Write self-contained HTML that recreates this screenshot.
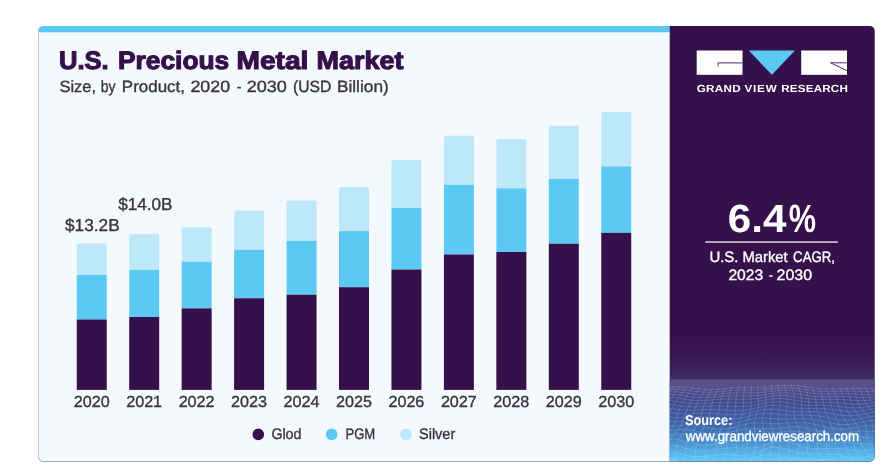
<!DOCTYPE html>
<html lang="en"><head><meta charset="utf-8"><title>U.S. Precious Metal Market</title>
<style>html,body{margin:0;padding:0;background:#fff}body{width:890px;height:470px;overflow:hidden}svg{display:block}text{font-family:"Liberation Sans",Arial,Helvetica,sans-serif;text-rendering:geometricPrecision}</style>
</head><body>
<svg width="890" height="470" viewBox="0 0 890 470">
<defs>
<clipPath id="card"><rect x="38.5" y="25.9" width="836" height="435.3" rx="5" ry="5"/></clipPath>
<clipPath id="panel"><rect x="669.7" y="379.5" width="206" height="82"/></clipPath>
<linearGradient id="pg" x1="0" y1="25" x2="0" y2="461" gradientUnits="userSpaceOnUse">
<stop offset="0.0000" stop-color="#36104a"/>
<stop offset="0.7110" stop-color="#36104a"/>
<stop offset="0.7683" stop-color="#391a53"/>
<stop offset="0.8131" stop-color="#3f2b64"/>
</linearGradient>
<linearGradient id="fg" x1="0" y1="379.5" x2="0" y2="461" gradientUnits="userSpaceOnUse">
<stop offset="0.0000" stop-color="#5b528b"/>
<stop offset="0.0798" stop-color="#554f8a"/>
<stop offset="0.1534" stop-color="#494a88"/>
<stop offset="0.2515" stop-color="#3f4b8b"/>
<stop offset="0.3742" stop-color="#3c5296"/>
<stop offset="0.5583" stop-color="#3e66ab"/>
<stop offset="0.7423" stop-color="#4689c9"/>
<stop offset="0.8896" stop-color="#54b0e7"/>
<stop offset="1.0000" stop-color="#5ecbf6"/>
</linearGradient>
<filter id="sh" x="-5%" y="-5%" width="110%" height="110%"><feGaussianBlur stdDeviation="0.7"/></filter>
</defs>
<rect x="38.1" y="25.9" width="836.8" height="436.0" rx="5.5" ry="5.5" fill="#8c8c8c" filter="url(#sh)"/>
<g clip-path="url(#card)">
<rect x="38" y="25" width="640" height="437" fill="#f4f9fd"/>
<rect x="38" y="25" width="633" height="7.3" fill="#5cc9f5"/>
<rect x="669.7" y="25" width="206" height="437" fill="url(#pg)"/>
<rect x="669.7" y="379.5" width="206" height="82" fill="url(#fg)"/>
<g clip-path="url(#panel)" fill="none" stroke="#ffffff" stroke-opacity="0.2" stroke-width="0.8">
<polyline points="661.2,387.9 664.2,387.7 667.1,387.4 670.1,387.2 673.0,387.1 675.9,387.0 678.8,387.0 681.7,387.1 684.6,387.3 687.5,387.5 690.3,387.9 693.2,388.3 696.1,388.6 699.0,389.0 701.9,389.3 704.9,389.6 707.8,389.7 710.8,389.7 713.7,389.7 716.7,389.5 719.7,389.3 722.7,389.0 725.7,388.7 728.7,388.3 731.7,388.0 734.7,387.8 737.7,387.6 740.7,387.5 743.6,387.4 746.6,387.4 749.6,387.4 752.5,387.4 755.5,387.4 758.5,387.4 761.4,387.3 764.4,387.2 767.3,387.0 770.3,386.8 773.2,386.5 776.2,386.3 779.2,386.0 782.2,385.8 785.3,385.6 788.3,385.5 791.4,385.5 794.5,385.7 797.6,385.9 800.7,386.3 803.8,386.7 807.0,387.1 810.1,387.6 813.3,388.1 816.5,388.5 819.6,388.8 822.8,389.0 825.9,389.2 829.0,389.2 832.1,389.2 835.2,389.1 838.3,389.0 841.3,388.8 844.3,388.7 847.3,388.5 850.2,388.5 853.1,388.4 856.0,388.4 858.9,388.5 861.8,388.6 864.6,388.7 867.4,388.8 870.3,388.9 873.1,388.9 876.0,388.9 878.8,388.7 881.7,388.5 884.5,388.3"/>
<polyline points="661.3,390.2 664.3,389.9 667.2,389.6 670.1,389.4 673.0,389.3 675.8,389.3 678.7,389.4 681.5,389.5 684.4,389.8 687.2,390.2 690.1,390.6 692.9,391.0 695.8,391.4 698.7,391.7 701.6,392.0 704.5,392.2 707.4,392.2 710.4,392.2 713.4,392.1 716.3,391.8 719.3,391.6 722.4,391.3 725.4,391.0 728.4,390.7 731.4,390.4 734.5,390.2 737.5,390.1 740.5,390.1 743.5,390.0 746.5,390.1 749.6,390.1 752.6,390.1 755.5,390.1 758.5,390.0 761.5,389.8 764.5,389.6 767.5,389.3 770.5,389.0 773.5,388.7 776.5,388.4 779.5,388.1 782.5,387.9 785.6,387.8 788.6,387.8 791.7,387.9 794.8,388.1 797.9,388.4 801.0,388.8 804.1,389.3 807.3,389.8 810.4,390.3 813.6,390.7 816.7,391.1 819.9,391.3 823.0,391.5 826.1,391.6 829.2,391.6 832.2,391.5 835.3,391.4 838.3,391.3 841.3,391.1 844.3,391.0 847.2,391.0 850.1,391.0 853.0,391.0 855.8,391.1 858.7,391.2 861.5,391.3 864.3,391.5 867.1,391.5 869.9,391.6 872.8,391.5 875.6,391.4 878.4,391.2 881.3,390.9 884.2,390.6"/>
<polyline points="661.3,392.5 664.2,392.2 667.1,392.0 669.9,391.8 672.8,391.8 675.6,391.8 678.4,392.0 681.2,392.3 684.0,392.6 686.8,393.0 689.7,393.5 692.5,393.9 695.4,394.3 698.2,394.6 701.1,394.8 704.1,394.9 707.0,394.9 710.0,394.7 713.0,394.5 716.0,394.3 719.0,394.0 722.1,393.7 725.1,393.4 728.2,393.2 731.3,393.0 734.4,392.9 737.4,392.9 740.5,392.9 743.6,392.9 746.6,392.9 749.7,392.9 752.7,392.9 755.8,392.8 758.8,392.6 761.8,392.4 764.8,392.1 767.8,391.7 770.8,391.3 773.8,391.0 776.9,390.6 779.9,390.4 782.9,390.2 786.0,390.2 789.0,390.2 792.1,390.4 795.1,390.8 798.2,391.2 801.3,391.6 804.4,392.1 807.5,392.6 810.7,393.1 813.8,393.5 816.9,393.8 820.0,394.0 823.1,394.1 826.1,394.1 829.2,394.0 832.2,393.9 835.2,393.8 838.2,393.7 841.1,393.6 844.1,393.6 847.0,393.6 849.8,393.7 852.7,393.8 855.5,394.0 858.3,394.1 861.1,394.3 863.9,394.4 866.7,394.4 869.5,394.4 872.3,394.2 875.2,394.0 878.0,393.7 880.9,393.3 883.8,393.0"/>
<polyline points="661.1,395.0 663.9,394.7 666.8,394.5 669.6,394.4 672.4,394.5 675.2,394.6 678.0,394.9 680.8,395.2 683.6,395.7 686.4,396.1 689.2,396.6 692.0,397.0 694.9,397.3 697.8,397.5 700.7,397.6 703.7,397.6 706.7,397.5 709.7,397.4 712.7,397.1 715.8,396.8 718.9,396.6 722.0,396.3 725.1,396.1 728.2,396.0 731.3,395.9 734.5,395.9 737.6,395.9 740.7,395.9 743.8,396.0 746.9,396.0 750.0,395.9 753.1,395.8 756.2,395.6 759.2,395.4 762.2,395.0 765.3,394.6 768.3,394.2 771.3,393.7 774.3,393.3 777.3,393.0 780.3,392.8 783.3,392.7 786.3,392.8 789.4,393.0 792.4,393.3 795.4,393.7 798.5,394.1 801.5,394.6 804.6,395.1 807.7,395.6 810.7,396.0 813.8,396.3 816.9,396.5 819.9,396.7 823.0,396.7 826.0,396.7 829.0,396.6 832.0,396.5 834.9,396.4 837.9,396.4 840.8,396.4 843.7,396.4 846.6,396.6 849.4,396.7 852.2,396.9 855.1,397.1 857.9,397.3 860.7,397.4 863.5,397.5 866.3,397.4 869.1,397.3 871.9,397.0 874.8,396.7 877.7,396.3 880.6,395.9 883.5,395.5"/>
<polyline points="660.7,397.6 663.5,397.4 666.3,397.3 669.1,397.3 671.9,397.4 674.7,397.7 677.5,398.1 680.3,398.5 683.1,399.0 685.9,399.4 688.7,399.8 691.6,400.2 694.5,400.4 697.5,400.5 700.4,400.6 703.4,400.5 706.5,400.3 709.5,400.1 712.6,399.8 715.8,399.6 718.9,399.4 722.1,399.2 725.2,399.1 728.4,399.1 731.6,399.1 734.8,399.1 738.0,399.2 741.1,399.3 744.3,399.3 747.4,399.2 750.5,399.1 753.6,398.9 756.7,398.5 759.7,398.1 762.8,397.7 765.8,397.2 768.8,396.7 771.8,396.3 774.7,395.9 777.7,395.6 780.7,395.5 783.6,395.5 786.6,395.7 789.6,396.0 792.5,396.4 795.5,396.9 798.5,397.4 801.5,397.9 804.5,398.3 807.5,398.7 810.6,399.0 813.6,399.3 816.6,399.4 819.6,399.4 822.6,399.4 825.6,399.3 828.6,399.3 831.5,399.2 834.5,399.2 837.4,399.3 840.3,399.4 843.2,399.6 846.1,399.8 848.9,400.0 851.8,400.3 854.6,400.5 857.4,400.6 860.3,400.7 863.1,400.7 866.0,400.5 868.8,400.2 871.7,399.9 874.6,399.5 877.5,399.0 880.5,398.5 883.5,398.1"/>
<polyline points="660.1,400.5 663.0,400.3 665.8,400.3 668.6,400.5 671.4,400.7 674.2,401.1 677.0,401.6 679.8,402.0 682.7,402.5 685.6,402.9 688.5,403.2 691.4,403.5 694.3,403.6 697.3,403.6 700.4,403.5 703.4,403.4 706.5,403.2 709.7,403.0 712.8,402.7 716.0,402.6 719.2,402.4 722.5,402.4 725.7,402.4 728.9,402.5 732.1,402.6 735.4,402.7 738.6,402.8 741.7,402.8 744.9,402.7 748.0,402.6 751.1,402.3 754.2,402.0 757.2,401.5 760.3,401.0 763.3,400.4 766.2,399.9 769.2,399.4 772.1,399.0 775.0,398.7 777.9,398.5 780.8,398.5 783.7,398.7 786.6,399.0 789.5,399.3 792.4,399.8 795.3,400.3 798.3,400.8 801.2,401.2 804.2,401.6 807.2,401.9 810.1,402.1 813.1,402.2 816.1,402.3 819.1,402.3 822.1,402.2 825.1,402.2 828.0,402.2 831.0,402.2 833.9,402.3 836.9,402.5 839.8,402.8 842.7,403.0 845.6,403.4 848.5,403.7 851.4,403.9 854.3,404.1 857.2,404.2 860.0,404.1 862.9,403.9 865.8,403.7 868.7,403.3 871.7,402.8 874.6,402.3 877.6,401.8 880.6,401.3 883.7,400.9"/>
<polyline points="659.6,403.6 662.5,403.6 665.3,403.8 668.2,404.0 671.0,404.4 673.9,404.9 676.8,405.3 679.7,405.8 682.6,406.2 685.5,406.5 688.5,406.7 691.5,406.8 694.5,406.8 697.6,406.8 700.7,406.6 703.8,406.4 707.0,406.2 710.1,406.0 713.4,405.9 716.6,405.9 719.8,405.9 723.1,406.0 726.3,406.1 729.6,406.3 732.8,406.4 736.0,406.5 739.2,406.6 742.4,406.5 745.5,406.3 748.6,406.0 751.6,405.6 754.7,405.1 757.7,404.5 760.6,403.9 763.5,403.3 766.4,402.7 769.3,402.3 772.1,402.0 775.0,401.8 777.8,401.8 780.6,401.9 783.4,402.2 786.3,402.5 789.1,403.0 792.0,403.5 794.8,403.9 797.7,404.3 800.6,404.7 803.6,405.0 806.5,405.1 809.5,405.2 812.5,405.3 815.4,405.2 818.4,405.2 821.5,405.2 824.5,405.3 827.5,405.4 830.5,405.5 833.5,405.8 836.5,406.1 839.4,406.5 842.4,406.9 845.4,407.2 848.3,407.5 851.3,407.7 854.2,407.8 857.2,407.8 860.1,407.6 863.1,407.3 866.0,406.8 869.0,406.3 872.0,405.8 875.0,405.3 878.1,404.8 881.1,404.4 884.2,404.1"/>
<polyline points="659.3,407.2 662.2,407.3 665.2,407.6 668.1,408.0 671.0,408.4 674.0,408.9 676.9,409.3 679.9,409.7 682.9,410.0 685.9,410.2 688.9,410.2 691.9,410.2 695.0,410.1 698.1,410.0 701.3,409.8 704.4,409.6 707.6,409.5 710.8,409.5 714.1,409.5 717.3,409.6 720.5,409.7 723.8,410.0 727.0,410.2 730.2,410.4 733.4,410.5 736.6,410.6 739.7,410.5 742.8,410.3 745.9,409.9 748.9,409.5 751.9,408.9 754.8,408.2 757.7,407.6 760.6,406.9 763.4,406.3 766.2,405.9 769.0,405.5 771.8,405.3 774.5,405.3 777.3,405.4 780.1,405.7 782.8,406.0 785.6,406.5 788.4,406.9 791.2,407.3 794.1,407.7 797.0,408.0 799.9,408.2 802.8,408.3 805.8,408.4 808.8,408.4 811.8,408.4 814.9,408.4 817.9,408.4 821.0,408.5 824.1,408.7 827.1,408.9 830.2,409.3 833.3,409.7 836.4,410.2 839.4,410.6 842.5,411.0 845.5,411.4 848.6,411.6 851.6,411.7 854.6,411.6 857.6,411.4 860.6,411.1 863.6,410.6 866.6,410.1 869.6,409.5 872.7,408.9 875.7,408.4 878.7,408.0 881.8,407.7 884.9,407.6"/>
<polyline points="659.5,411.2 662.5,411.5 665.5,411.9 668.5,412.3 671.5,412.7 674.5,413.1 677.5,413.4 680.5,413.7 683.5,413.8 686.6,413.8 689.6,413.8 692.7,413.6 695.8,413.5 698.9,413.3 702.0,413.2 705.2,413.2 708.4,413.2 711.5,413.3 714.7,413.5 717.9,413.8 721.1,414.1 724.2,414.4 727.4,414.6 730.5,414.8 733.7,414.8 736.7,414.7 739.8,414.5 742.8,414.1 745.8,413.6 748.7,412.9 751.6,412.2 754.5,411.5 757.3,410.8 760.1,410.2 762.9,409.7 765.6,409.3 768.3,409.2 771.0,409.1 773.8,409.3 776.5,409.5 779.2,409.8 782.0,410.2 784.8,410.6 787.6,411.0 790.4,411.3 793.3,411.5 796.3,411.6 799.2,411.7 802.2,411.7 805.3,411.7 808.3,411.6 811.4,411.6 814.6,411.7 817.7,411.9 820.9,412.1 824.1,412.5 827.2,413.0 830.4,413.5 833.6,414.0 836.7,414.6 839.9,415.1 843.0,415.4 846.1,415.7 849.2,415.8 852.3,415.7 855.3,415.5 858.4,415.1 861.4,414.6 864.4,414.0 867.4,413.4 870.4,412.9 873.4,412.4 876.4,412.0 879.5,411.7 882.5,411.6 885.5,411.6"/>
<polyline points="660.2,415.7 663.3,416.1 666.3,416.5 669.4,416.9 672.4,417.2 675.4,417.4 678.4,417.6 681.4,417.6 684.4,417.6 687.4,417.5 690.5,417.3 693.5,417.1 696.5,417.0 699.6,417.0 702.6,417.0 705.7,417.1 708.8,417.4 711.9,417.7 715.0,418.1 718.1,418.5 721.1,418.8 724.2,419.1 727.3,419.3 730.3,419.3 733.4,419.2 736.4,418.9 739.3,418.5 742.3,417.9 745.2,417.2 748.0,416.4 750.9,415.6 753.7,414.9 756.5,414.3 759.2,413.8 762.0,413.5 764.7,413.3 767.4,413.3 770.2,413.5 772.9,413.7 775.7,414.0 778.4,414.3 781.3,414.6 784.1,414.9 787.0,415.1 789.9,415.2 792.9,415.3 795.9,415.2 799.0,415.2 802.1,415.1 805.2,415.1 808.4,415.1 811.6,415.2 814.9,415.5 818.1,415.9 821.4,416.3 824.6,416.9 827.9,417.5 831.2,418.2 834.4,418.8 837.6,419.3 840.8,419.7 843.9,420.0 847.1,420.1 850.2,420.0 853.2,419.7 856.3,419.3 859.3,418.8 862.2,418.2 865.2,417.6 868.2,417.0 871.1,416.5 874.0,416.2 876.9,416.0 879.8,415.9 882.8,415.9 885.7,416.1"/>
<polyline points="661.3,420.7 664.3,421.0 667.4,421.3 670.4,421.5 673.4,421.7 676.3,421.7 679.2,421.6 682.2,421.5 685.1,421.3 688.0,421.1 690.9,421.0 693.8,420.9 696.8,421.0 699.7,421.1 702.6,421.4 705.6,421.7 708.6,422.2 711.6,422.7 714.5,423.1 717.5,423.6 720.5,423.9 723.5,424.1 726.5,424.1 729.5,423.9 732.5,423.6 735.4,423.0 738.4,422.4 741.3,421.6 744.2,420.8 747.1,420.1 749.9,419.4 752.7,418.8 755.5,418.3 758.3,418.0 761.1,417.9 763.9,417.9 766.7,418.1 769.5,418.3 772.4,418.5 775.2,418.8 778.1,419.0 781.0,419.1 784.0,419.2 787.0,419.2 790.0,419.1 793.1,419.0 796.2,418.8 799.4,418.7 802.6,418.7 805.9,418.8 809.1,419.0 812.4,419.3 815.7,419.8 819.1,420.4 822.4,421.1 825.7,421.9 829.0,422.6 832.2,423.3 835.4,423.8 838.6,424.2 841.8,424.5 844.9,424.5 848.0,424.4 851.0,424.1 854.0,423.6 856.9,423.1 859.8,422.5 862.7,422.0 865.5,421.4 868.4,421.0 871.2,420.7 874.0,420.6 876.8,420.6 879.6,420.7 882.4,420.8 885.2,421.1"/>
<polyline points="662.2,425.9 665.1,426.1 668.1,426.2 671.0,426.1 673.8,426.0 676.7,425.8 679.5,425.6 682.2,425.4 685.0,425.2 687.8,425.1 690.6,425.1 693.4,425.2 696.2,425.5 699.0,425.9 701.8,426.4 704.7,427.0 707.6,427.6 710.5,428.1 713.5,428.6 716.4,428.9 719.4,429.1 722.4,429.0 725.4,428.8 728.4,428.4 731.4,427.8 734.4,427.1 737.4,426.3 740.4,425.5 743.3,424.8 746.3,424.1 749.2,423.6 752.2,423.2 755.1,423.0 758.0,422.9 760.9,423.0 763.8,423.1 766.8,423.3 769.7,423.4 772.6,423.6 775.6,423.6 778.6,423.6 781.6,423.5 784.7,423.3 787.8,423.1 790.9,422.9 794.0,422.7 797.2,422.6 800.5,422.6 803.7,422.7 807.0,423.0 810.3,423.5 813.6,424.1 816.9,424.8 820.1,425.6 823.4,426.5 826.7,427.3 829.9,428.0 833.1,428.6 836.2,429.0 839.3,429.2 842.4,429.2 845.4,429.0 848.3,428.6 851.2,428.2 854.0,427.6 856.9,427.1 859.6,426.6 862.4,426.2 865.1,425.9 867.8,425.7 870.5,425.6 873.2,425.7 875.9,425.8 878.6,426.0 881.3,426.2 884.1,426.3"/>
<polyline points="662.3,431.1 665.1,431.0 667.9,430.8 670.6,430.6 673.3,430.3 676.0,429.9 678.7,429.7 681.4,429.5 684.0,429.4 686.7,429.5 689.4,429.8 692.1,430.2 694.9,430.8 697.7,431.4 700.5,432.1 703.4,432.8 706.3,433.4 709.2,433.9 712.2,434.2 715.3,434.3 718.3,434.2 721.4,433.9 724.5,433.3 727.6,432.7 730.8,432.0 733.9,431.2 737.0,430.5 740.2,429.8 743.3,429.2 746.4,428.8 749.5,428.6 752.5,428.4 755.6,428.4 758.6,428.5 761.7,428.6 764.7,428.7 767.7,428.7 770.7,428.7 773.7,428.6 776.8,428.4 779.8,428.1 782.8,427.7 785.9,427.3 789.0,427.0 792.1,426.8 795.3,426.7 798.4,426.7 801.6,426.9 804.8,427.4 808.0,428.0 811.2,428.7 814.4,429.6 817.5,430.5 820.7,431.4 823.9,432.2 827.0,433.0 830.1,433.5 833.1,433.8 836.1,434.0 839.1,433.9 842.0,433.7 844.8,433.3 847.7,432.8 850.4,432.4 853.2,431.9 855.9,431.5 858.6,431.3 861.2,431.1 863.9,431.1 866.5,431.1 869.2,431.3 871.9,431.4 874.6,431.6 877.3,431.7 880.1,431.8 882.9,431.7"/>
<polyline points="661.3,436.1 664.0,435.7 666.7,435.3 669.3,434.9 672.0,434.5 674.6,434.2 677.3,434.1 679.9,434.1 682.6,434.4 685.3,434.8 688.0,435.4 690.8,436.1 693.6,436.9 696.5,437.7 699.4,438.4 702.4,439.0 705.5,439.4 708.6,439.7 711.7,439.6 714.9,439.4 718.1,439.0 721.4,438.5 724.7,437.8 728.0,437.1 731.2,436.4 734.5,435.8 737.8,435.2 741.1,434.8 744.3,434.6 747.5,434.4 750.7,434.4 753.9,434.4 757.0,434.5 760.1,434.5 763.1,434.5 766.2,434.3 769.2,434.1 772.1,433.8 775.1,433.3 778.1,432.8 781.0,432.3 784.0,431.8 786.9,431.4 789.9,431.2 792.9,431.1 795.9,431.2 798.9,431.6 801.9,432.2 804.9,432.9 808.0,433.8 811.0,434.8 814.1,435.7 817.1,436.7 820.1,437.5 823.2,438.1 826.1,438.6 829.1,438.8 832.1,438.8 835.0,438.7 837.8,438.4 840.7,438.1 843.5,437.7 846.3,437.4 849.0,437.1 851.8,436.9 854.5,436.8 857.2,436.8 859.9,436.9 862.6,437.1 865.3,437.3 868.1,437.5 870.9,437.6 873.7,437.6 876.5,437.5 879.4,437.3 882.4,436.9"/>
<polyline points="659.7,440.8 662.4,440.3 665.2,439.7 667.9,439.4 670.6,439.1 673.4,439.1 676.1,439.3 678.9,439.8 681.7,440.4 684.5,441.1 687.4,442.0 690.4,442.8 693.4,443.6 696.5,444.3 699.6,444.8 702.7,445.1 706.0,445.2 709.2,445.1 712.5,444.8 715.9,444.3 719.3,443.7 722.7,443.1 726.0,442.5 729.4,441.9 732.8,441.5 736.2,441.2 739.5,441.0 742.8,440.9 746.0,440.9 749.2,440.9 752.3,441.0 755.4,441.0 758.4,440.9 761.4,440.6 764.3,440.3 767.2,439.8 770.1,439.2 772.9,438.5 775.7,437.8 778.4,437.1 781.2,436.6 784.0,436.2 786.8,436.0 789.5,436.0 792.3,436.3 795.2,436.8 798.0,437.5 800.9,438.4 803.8,439.4 806.7,440.4 809.6,441.3 812.6,442.2 815.6,442.9 818.6,443.4 821.6,443.7 824.5,443.8 827.5,443.8 830.5,443.6 833.4,443.4 836.4,443.1 839.3,442.9 842.2,442.7 845.1,442.6 848.0,442.7 850.9,442.8 853.7,443.0 856.6,443.3 859.5,443.6 862.3,443.8 865.2,444.0 868.1,444.0 871.1,443.8 874.1,443.5 877.1,443.0 880.2,442.4 883.3,441.7"/>
<polyline points="658.9,445.5 661.8,445.0 664.8,444.7 667.7,444.6 670.6,444.8 673.5,445.2 676.5,445.8 679.4,446.5 682.4,447.4 685.4,448.3 688.5,449.1 691.6,449.8 694.7,450.4 697.9,450.7 701.1,450.9 704.4,450.8 707.7,450.6 711.0,450.2 714.3,449.7 717.7,449.2 721.1,448.7 724.4,448.3 727.7,448.0 731.1,447.8 734.3,447.7 737.6,447.8 740.8,447.9 743.9,448.0 746.9,448.0 750.0,448.0 752.9,447.8 755.8,447.5 758.6,447.0 761.4,446.4 764.1,445.6 766.7,444.7 769.4,443.9 772.0,443.0 774.6,442.3 777.2,441.7 779.8,441.4 782.5,441.3 785.1,441.5 787.8,442.0 790.5,442.6 793.3,443.5 796.1,444.4 799.0,445.4 801.9,446.3 804.9,447.2 807.9,447.8 811.0,448.4 814.0,448.7 817.2,448.9 820.3,448.9 823.5,448.8 826.6,448.6 829.8,448.5 832.9,448.4 836.1,448.4 839.2,448.5 842.3,448.7 845.4,449.0 848.5,449.4 851.5,449.9 854.6,450.3 857.6,450.6 860.6,450.8 863.6,450.8 866.7,450.6 869.7,450.2 872.7,449.7 875.8,448.9 878.9,448.1 882.0,447.2 885.1,446.4"/>
<polyline points="660.1,450.8 663.2,450.7 666.2,450.8 669.3,451.2 672.3,451.7 675.4,452.5 678.4,453.3 681.4,454.2 684.4,455.0 687.5,455.7 690.5,456.2 693.6,456.5 696.6,456.7 699.7,456.6 702.8,456.4 706.0,456.1 709.1,455.7 712.3,455.3 715.5,455.0 718.6,454.8 721.8,454.6 724.9,454.7 728.1,454.8 731.1,455.0 734.2,455.2 737.2,455.5 740.2,455.6 743.1,455.6 746.0,455.4 748.8,455.0 751.6,454.4 754.3,453.6 756.9,452.6 759.6,451.6 762.2,450.5 764.8,449.5 767.4,448.6 769.9,448.0 772.5,447.5 775.2,447.3 777.8,447.4 780.5,447.8 783.3,448.4 786.1,449.2 788.9,450.0 791.9,450.9 794.9,451.8 797.9,452.5 801.1,453.1 804.3,453.6 807.5,453.8 810.8,454.0 814.1,454.0 817.5,453.9 820.9,453.9 824.2,453.9 827.6,453.9 831.0,454.1 834.3,454.5 837.6,454.9 840.9,455.5 844.2,456.1 847.4,456.7 850.5,457.3 853.6,457.7 856.7,458.0 859.7,458.0 862.7,457.8 865.6,457.4 868.6,456.7 871.5,455.9 874.4,455.0 877.3,454.0 880.2,453.1 883.2,452.3 886.1,451.6"/>
<polyline points="662.4,457.5 665.5,457.9 668.5,458.4 671.5,459.1 674.4,459.9 677.2,460.7 680.1,461.4 682.9,462.0 685.7,462.4 688.5,462.6 691.3,462.6 694.1,462.5 696.9,462.3 699.8,462.0 702.6,461.7 705.5,461.5 708.4,461.4 711.4,461.4 714.3,461.5 717.3,461.8 720.2,462.2 723.2,462.6 726.2,463.0 729.2,463.4 732.1,463.6 735.1,463.6 738.0,463.4 740.9,462.9 743.7,462.2 746.6,461.2 749.4,460.1 752.2,459.0 755.0,457.8 757.7,456.6 760.5,455.6 763.2,454.9 766.0,454.4 768.8,454.1 771.6,454.2 774.4,454.5 777.3,455.0 780.3,455.7 783.3,456.4 786.3,457.1 789.4,457.8 792.6,458.4 795.9,458.8 799.2,459.1 802.5,459.2 805.9,459.2 809.3,459.2 812.8,459.2 816.2,459.2 819.7,459.3 823.1,459.6 826.6,460.0 830.0,460.6 833.3,461.3 836.6,462.1 839.9,463.0 843.1,463.8 846.2,464.5 849.2,465.1 852.2,465.4 855.1,465.5 857.9,465.3 860.7,464.8 863.5,464.1 866.2,463.2 868.8,462.2 871.5,461.2 874.1,460.2 876.8,459.4 879.4,458.8 882.1,458.4 884.8,458.2"/>
<polyline points="663.3,466.0 666.1,466.6 668.8,467.2 671.5,467.8 674.1,468.3 676.7,468.7 679.2,468.9 681.8,468.9 684.3,468.8 686.9,468.6 689.5,468.3 692.1,468.0 694.7,467.9 697.4,467.8 700.1,467.9 702.9,468.2 705.8,468.6 708.7,469.2 711.7,469.9 714.7,470.6 717.8,471.2 720.8,471.6 724.0,471.9 727.1,471.9 730.3,471.7 733.4,471.1 736.6,470.3 739.7,469.3 742.9,468.1 746.0,466.8 749.1,465.5 752.2,464.4 755.2,463.4 758.3,462.6 761.3,462.1 764.3,461.8 767.3,461.9 770.3,462.1 773.3,462.5 776.4,463.0 779.4,463.6 782.5,464.1 785.6,464.5 788.8,464.8 791.9,464.9 795.1,464.9 798.4,464.8 801.6,464.7 804.9,464.6 808.2,464.6 811.5,464.7 814.9,464.9 818.1,465.4 821.4,466.1 824.7,466.9 827.9,467.9 831.0,469.0 834.1,470.1 837.1,471.1 840.1,472.0 843.0,472.7 845.8,473.0 848.6,473.1 851.3,472.9 853.9,472.4 856.5,471.6 859.1,470.7 861.6,469.8 864.1,468.8 866.6,467.9 869.1,467.1 871.6,466.6 874.2,466.2 876.8,466.2 879.5,466.3 882.2,466.5"/>
<polyline points="612.8,387.4 609.7,390.5 606.7,393.6 603.8,396.7 600.9,399.8 597.9,402.8 594.9,405.7 591.8,408.5 588.5,411.3 585.1,414.0 581.5,416.7 577.9,419.3 574.2,421.8 570.6,424.3 567.1,426.8 563.9,429.2 560.8,431.7 557.9,434.1 555.2,436.6 552.5,439.1 549.9,441.7 547.1,444.3 544.2,447.0 540.9,449.8 537.3,452.7 533.5,455.7 529.3,458.8 525.0,462.0 520.6,465.3 516.3,468.7"/>
<polyline points="619.7,386.7 616.7,389.9 613.9,393.0 611.0,396.2 608.2,399.3 605.2,402.3 602.2,405.4 599.0,408.3 595.7,411.2 592.2,414.0 588.7,416.8 585.2,419.5 581.7,422.1 578.4,424.7 575.2,427.2 572.3,429.7 569.6,432.1 567.2,434.5 564.8,436.9 562.4,439.3 560.0,441.8 557.3,444.2 554.4,446.7 551.1,449.2 547.5,451.9 543.5,454.6 539.4,457.4 535.1,460.2 530.9,463.2 526.9,466.3"/>
<polyline points="626.6,386.3 623.8,389.4 621.1,392.6 618.3,395.8 615.5,399.0 612.6,402.2 609.5,405.3 606.3,408.4 602.9,411.5 599.5,414.5 596.0,417.5 592.6,420.4 589.3,423.2 586.2,426.0 583.4,428.7 580.8,431.4 578.4,434.0 576.3,436.5 574.1,439.0 571.9,441.5 569.6,444.0 567.0,446.4 564.0,448.9 560.7,451.4 557.1,453.9 553.3,456.5 549.3,459.1 545.3,461.8 541.5,464.6 537.9,467.4"/>
<polyline points="633.6,386.1 631.0,389.3 628.4,392.6 625.7,395.8 622.9,399.1 620.0,402.4 616.9,405.6 613.7,408.9 610.3,412.1 606.9,415.4 603.5,418.5 600.2,421.7 597.1,424.8 594.2,427.8 591.7,430.8 589.4,433.7 587.2,436.5 585.2,439.3 583.2,442.0 581.1,444.7 578.7,447.3 576.0,449.9 573.0,452.5 569.7,455.0 566.2,457.5 562.5,460.0 558.9,462.6 555.4,465.1 552.2,467.7 549.2,470.4"/>
<polyline points="640.5,386.2 638.1,389.4 635.6,392.7 633.0,396.0 630.3,399.3 627.4,402.7 624.3,406.0 621.1,409.4 617.8,412.7 614.4,416.1 611.2,419.4 608.1,422.7 605.2,425.9 602.6,429.1 600.3,432.3 598.2,435.4 596.2,438.4 594.2,441.4 592.1,444.3 589.9,447.1 587.4,449.9 584.6,452.6 581.5,455.2 578.2,457.8 574.8,460.3 571.4,462.7 568.2,465.1 565.3,467.5 562.7,469.9 560.4,472.2"/>
<polyline points="647.4,386.4 645.1,389.5 642.8,392.8 640.3,396.0 637.6,399.3 634.8,402.6 631.7,406.0 628.6,409.3 625.4,412.6 622.2,416.0 619.2,419.3 616.3,422.6 613.7,425.9 611.4,429.2 609.3,432.4 607.3,435.6 605.3,438.7 603.3,441.7 601.1,444.7 598.6,447.6 595.9,450.4 592.9,453.1 589.7,455.8 586.5,458.4 583.2,460.9 580.2,463.3 577.4,465.7 575.0,468.0 573.0,470.3 571.2,472.5"/>
<polyline points="654.2,386.3 652.1,389.4 649.8,392.6 647.4,395.7 644.8,398.9 642.0,402.1 639.1,405.3 636.1,408.5 633.1,411.7 630.2,414.9 627.4,418.2 624.9,421.4 622.6,424.6 620.5,427.8 618.5,431.0 616.6,434.1 614.6,437.2 612.5,440.3 610.1,443.3 607.5,446.3 604.5,449.2 601.4,452.1 598.2,454.9 594.9,457.7 591.9,460.4 589.2,463.0 586.8,465.6 584.8,468.2 583.2,470.7 581.9,473.1"/>
<polyline points="661.0,386.0 658.9,389.0 656.7,392.0 654.4,395.0 651.9,398.0 649.2,401.1 646.4,404.1 643.6,407.2 640.8,410.2 638.2,413.3 635.8,416.4 633.5,419.5 631.5,422.6 629.7,425.8 627.9,428.9 626.1,432.1 624.1,435.3 621.8,438.4 619.3,441.6 616.5,444.8 613.4,448.0 610.2,451.1 607.0,454.3 603.9,457.4 601.1,460.5 598.7,463.6 596.7,466.6 595.1,469.7 593.8,472.7 592.6,475.6"/>
<polyline points="667.6,385.6 665.6,388.5 663.5,391.3 661.2,394.2 658.7,397.1 656.2,400.0 653.6,402.9 651.0,405.9 648.5,408.8 646.2,411.8 644.1,414.9 642.3,418.0 640.6,421.1 639.0,424.3 637.3,427.5 635.5,430.8 633.5,434.1 631.1,437.4 628.5,440.8 625.6,444.2 622.5,447.7 619.3,451.2 616.3,454.7 613.5,458.2 611.1,461.7 609.1,465.2 607.4,468.6 606.0,472.1 604.8,475.5 603.6,478.8"/>
<polyline points="674.1,385.2 672.1,388.0 670.1,390.8 667.8,393.7 665.5,396.5 663.1,399.4 660.6,402.3 658.3,405.2 656.1,408.2 654.2,411.2 652.5,414.3 650.9,417.5 649.5,420.7 648.1,423.9 646.5,427.2 644.7,430.6 642.7,434.0 640.3,437.5 637.6,441.0 634.7,444.6 631.7,448.1 628.8,451.7 626.1,455.3 623.7,458.9 621.7,462.5 620.1,466.0 618.7,469.5 617.5,472.9 616.3,476.3 614.9,479.6"/>
<polyline points="680.5,385.1 678.6,387.9 676.6,390.8 674.4,393.7 672.1,396.6 669.9,399.5 667.6,402.5 665.6,405.5 663.7,408.5 662.1,411.6 660.7,414.8 659.4,418.0 658.2,421.2 656.9,424.5 655.4,427.8 653.6,431.1 651.5,434.5 649.1,437.9 646.5,441.2 643.7,444.6 641.0,448.0 638.4,451.3 636.2,454.6 634.3,457.9 632.8,461.2 631.5,464.4 630.5,467.6 629.3,470.7 628.0,473.9 626.4,476.9"/>
<polyline points="686.9,385.4 685.0,388.3 683.0,391.3 680.9,394.3 678.8,397.3 676.6,400.3 674.6,403.4 672.8,406.5 671.3,409.6 669.9,412.7 668.8,415.8 667.7,418.9 666.6,422.1 665.3,425.2 663.8,428.3 662.0,431.4 659.9,434.4 657.5,437.5 655.0,440.5 652.5,443.5 650.1,446.4 648.1,449.4 646.3,452.3 645.0,455.2 643.9,458.1 643.0,461.0 642.1,463.9 641.0,466.9 639.6,469.9 637.7,472.9"/>
<polyline points="693.3,386.1 691.5,389.1 689.5,392.2 687.5,395.3 685.4,398.4 683.5,401.5 681.7,404.5 680.2,407.6 678.8,410.6 677.7,413.6 676.8,416.6 675.8,419.5 674.7,422.4 673.5,425.3 671.9,428.1 670.0,430.8 667.9,433.5 665.6,436.2 663.3,438.9 661.1,441.6 659.1,444.3 657.6,447.0 656.3,449.7 655.5,452.5 654.8,455.3 654.1,458.3 653.3,461.3 652.1,464.4 650.6,467.6 648.5,470.9"/>
<polyline points="699.7,386.9 697.9,390.0 696.0,393.1 694.1,396.2 692.2,399.3 690.5,402.3 688.9,405.3 687.6,408.3 686.5,411.2 685.6,414.0 684.8,416.7 683.8,419.5 682.7,422.1 681.4,424.7 679.7,427.3 677.8,429.9 675.7,432.5 673.5,435.1 671.4,437.7 669.5,440.4 668.0,443.2 666.9,446.0 666.2,448.9 665.6,451.9 665.2,455.0 664.6,458.2 663.7,461.5 662.4,464.9 660.7,468.3 658.5,471.8"/>
<polyline points="706.2,387.5 704.5,390.6 702.7,393.7 700.9,396.7 699.2,399.7 697.6,402.6 696.3,405.5 695.3,408.3 694.4,411.0 693.6,413.7 692.8,416.4 691.8,419.0 690.7,421.7 689.2,424.3 687.4,427.0 685.5,429.7 683.4,432.4 681.4,435.3 679.6,438.2 678.1,441.1 677.0,444.2 676.3,447.3 675.8,450.5 675.5,453.8 675.1,457.1 674.4,460.4 673.4,463.7 671.9,467.0 670.0,470.2 667.7,473.4"/>
<polyline points="712.7,387.7 711.1,390.7 709.4,393.7 707.8,396.7 706.3,399.5 705.0,402.4 703.9,405.1 703.1,407.9 702.4,410.6 701.7,413.4 700.9,416.1 699.9,418.9 698.6,421.8 697.0,424.7 695.2,427.7 693.3,430.7 691.3,433.8 689.5,437.0 688.0,440.2 686.9,443.5 686.2,446.7 685.8,450.0 685.5,453.2 685.2,456.4 684.7,459.5 683.9,462.5 682.6,465.4 680.8,468.2 678.7,470.9 676.5,473.4"/>
<polyline points="719.3,387.5 717.7,390.4 716.2,393.3 714.8,396.1 713.6,399.0 712.6,401.8 711.8,404.6 711.1,407.5 710.6,410.4 709.9,413.4 709.1,416.4 708.0,419.6 706.7,422.7 705.0,426.0 703.2,429.3 701.3,432.6 699.6,436.0 698.1,439.3 697.0,442.6 696.2,445.8 695.8,448.9 695.6,452.0 695.4,454.9 695.0,457.7 694.3,460.3 693.2,462.9 691.6,465.3 689.6,467.7 687.5,470.1 685.4,472.4"/>
<polyline points="725.8,386.8 724.5,389.7 723.2,392.6 722.0,395.5 721.0,398.4 720.3,401.4 719.7,404.4 719.3,407.5 718.8,410.7 718.2,414.0 717.4,417.3 716.2,420.7 714.8,424.1 713.2,427.5 711.4,430.9 709.7,434.2 708.3,437.5 707.1,440.6 706.4,443.6 706.0,446.6 705.8,449.3 705.7,452.0 705.5,454.6 705.0,457.1 704.0,459.6 702.6,462.0 700.7,464.5 698.7,467.1 696.7,469.8 694.9,472.7"/>
<polyline points="732.4,386.1 731.2,389.0 730.1,392.0 729.2,395.0 728.5,398.2 728.1,401.3 727.7,404.6 727.4,407.9 727.0,411.3 726.5,414.7 725.6,418.2 724.4,421.6 723.0,424.9 721.4,428.2 719.9,431.3 718.5,434.4 717.4,437.3 716.7,440.1 716.3,442.8 716.2,445.5 716.2,448.1 716.2,450.7 715.8,453.3 715.1,456.0 713.8,458.8 712.2,461.8 710.3,464.9 708.4,468.2 706.6,471.6 705.2,475.1"/>
<polyline points="738.9,385.5 738.0,388.6 737.1,391.7 736.5,394.9 736.1,398.2 735.8,401.5 735.7,404.9 735.5,408.3 735.2,411.7 734.6,415.0 733.7,418.3 732.5,421.4 731.2,424.4 729.8,427.4 728.5,430.2 727.4,432.9 726.7,435.6 726.4,438.3 726.4,440.9 726.6,443.7 726.7,446.5 726.6,449.5 726.1,452.7 725.2,455.9 723.8,459.4 722.1,462.9 720.3,466.6 718.6,470.3 717.3,474.0 716.5,477.6"/>
<polyline points="745.4,385.3 744.7,388.5 744.1,391.7 743.7,395.0 743.6,398.3 743.5,401.6 743.6,404.9 743.4,408.1 743.1,411.3 742.5,414.3 741.6,417.2 740.5,420.0 739.3,422.8 738.1,425.4 737.1,428.1 736.5,430.8 736.2,433.5 736.3,436.4 736.6,439.4 736.9,442.6 737.0,446.0 736.8,449.5 736.2,453.1 735.1,456.7 733.6,460.4 732.0,464.0 730.4,467.6 729.2,471.0 728.5,474.2 728.3,477.2"/>
<polyline points="751.9,385.3 751.4,388.5 751.0,391.7 750.9,395.0 751.0,398.2 751.1,401.3 751.2,404.3 751.2,407.2 750.8,410.0 750.2,412.7 749.3,415.4 748.3,418.0 747.2,420.6 746.3,423.3 745.7,426.2 745.5,429.1 745.6,432.3 746.0,435.6 746.5,439.0 746.8,442.6 746.9,446.2 746.5,449.8 745.7,453.3 744.5,456.7 743.1,460.0 741.7,463.0 740.6,465.9 739.9,468.6 739.8,471.1 740.2,473.5"/>
<polyline points="758.3,385.3 758.0,388.5 757.9,391.6 758.1,394.6 758.3,397.5 758.6,400.3 758.7,403.0 758.6,405.7 758.3,408.3 757.6,410.9 756.8,413.5 755.8,416.2 755.0,419.1 754.4,422.1 754.2,425.3 754.3,428.6 754.8,432.1 755.4,435.6 756.0,439.1 756.3,442.5 756.2,445.8 755.7,449.0 754.7,451.9 753.5,454.7 752.2,457.2 751.2,459.6 750.5,462.0 750.4,464.3 750.9,466.8 751.7,469.4"/>
<polyline points="764.7,385.2 764.7,388.2 764.8,391.0 765.1,393.8 765.5,396.5 765.8,399.1 766.0,401.6 765.9,404.2 765.5,406.8 764.8,409.6 764.0,412.5 763.3,415.5 762.7,418.7 762.5,422.0 762.6,425.4 763.1,428.9 763.8,432.2 764.5,435.5 765.0,438.6 765.2,441.5 764.9,444.1 764.2,446.6 763.2,449.0 762.0,451.3 761.1,453.6 760.4,456.0 760.3,458.5 760.8,461.3 761.7,464.4 762.7,467.7"/>
<polyline points="771.2,384.8 771.3,387.6 771.7,390.3 772.1,392.8 772.6,395.4 773.0,398.0 773.1,400.6 773.0,403.4 772.5,406.3 771.9,409.3 771.2,412.5 770.7,415.8 770.5,419.2 770.6,422.5 771.0,425.8 771.8,428.9 772.6,431.8 773.3,434.5 773.8,437.0 773.7,439.3 773.3,441.6 772.4,443.9 771.4,446.2 770.5,448.8 769.9,451.5 769.7,454.5 770.1,457.8 771.0,461.3 772.2,464.9 773.3,468.6"/>
<polyline points="777.6,384.3 778.0,387.0 778.6,389.5 779.2,392.1 779.7,394.8 780.1,397.5 780.2,400.5 780.0,403.5 779.6,406.7 779.0,410.0 778.5,413.3 778.3,416.6 778.3,419.8 778.8,422.8 779.6,425.6 780.5,428.2 781.4,430.6 782.0,432.9 782.3,435.2 782.1,437.5 781.5,440.0 780.6,442.7 779.7,445.6 779.1,448.9 779.0,452.3 779.3,455.9 780.2,459.5 781.5,463.1 782.7,466.4 783.8,469.5"/>
<polyline points="784.2,383.8 784.8,386.5 785.5,389.2 786.2,391.9 786.8,394.9 787.2,397.9 787.2,401.1 787.0,404.4 786.7,407.7 786.3,411.0 786.0,414.1 786.1,417.1 786.5,419.9 787.3,422.4 788.3,424.8 789.3,427.2 790.2,429.5 790.8,431.9 790.8,434.6 790.5,437.5 789.8,440.6 789.1,444.0 788.5,447.6 788.3,451.2 788.7,454.8 789.5,458.2 790.8,461.4 792.2,464.2 793.5,466.8 794.3,469.0"/>
<polyline points="790.9,383.7 791.7,386.5 792.5,389.4 793.3,392.5 793.9,395.7 794.3,399.0 794.3,402.3 794.2,405.6 793.9,408.7 793.7,411.7 793.8,414.5 794.2,417.1 795.0,419.5 796.0,421.9 797.2,424.3 798.4,426.9 799.2,429.7 799.6,432.7 799.5,436.0 799.1,439.6 798.5,443.2 798.0,446.9 797.8,450.4 798.2,453.7 799.1,456.8 800.4,459.5 801.9,461.9 803.4,464.1 804.5,466.2 805.0,468.5"/>
<polyline points="797.7,383.9 798.6,387.0 799.6,390.2 800.5,393.5 801.1,396.9 801.4,400.2 801.5,403.3 801.5,406.4 801.4,409.2 801.5,411.9 801.9,414.4 802.6,416.8 803.8,419.4 805.1,422.0 806.4,424.9 807.5,428.1 808.2,431.5 808.5,435.2 808.3,438.9 807.9,442.5 807.6,446.0 807.4,449.3 807.8,452.2 808.7,454.8 810.1,457.2 811.8,459.5 813.4,461.8 814.8,464.3 815.7,467.0 815.9,470.2"/>
<polyline points="804.5,384.7 805.7,388.0 806.7,391.3 807.6,394.7 808.3,397.9 808.7,401.0 808.8,403.9 808.9,406.6 809.0,409.2 809.5,411.8 810.2,414.4 811.4,417.1 812.8,420.1 814.3,423.4 815.6,426.8 816.7,430.5 817.3,434.3 817.4,437.9 817.3,441.4 817.1,444.6 817.0,447.5 817.3,450.1 818.2,452.5 819.6,454.8 821.4,457.2 823.3,459.9 824.9,463.0 826.1,466.4 826.6,470.3 826.6,474.3"/>
<polyline points="811.5,385.7 812.7,389.0 813.9,392.3 814.8,395.5 815.5,398.5 815.9,401.3 816.2,404.0 816.4,406.6 816.9,409.3 817.6,412.0 818.8,415.0 820.2,418.3 821.8,421.8 823.4,425.5 824.8,429.3 825.7,432.9 826.2,436.4 826.3,439.6 826.3,442.4 826.3,445.0 826.6,447.4 827.4,449.8 828.8,452.3 830.6,455.2 832.7,458.4 834.5,462.0 836.0,465.9 836.9,470.0 837.1,474.0 836.8,477.8"/>
<polyline points="818.4,386.6 819.8,389.8 821.0,392.9 822.0,395.9 822.7,398.6 823.2,401.3 823.6,404.0 824.1,406.7 824.8,409.7 825.9,413.0 827.4,416.4 829.1,420.1 830.9,423.8 832.5,427.5 833.7,431.0 834.5,434.1 834.9,437.0 835.0,439.5 835.1,441.9 835.4,444.3 836.2,446.9 837.5,449.9 839.3,453.2 841.4,456.8 843.5,460.8 845.2,464.8 846.4,468.7 846.9,472.2 846.8,475.4 846.5,478.0"/>
<polyline points="825.4,387.2 826.8,390.2 828.1,393.0 829.1,395.8 829.8,398.5 830.4,401.2 830.9,404.2 831.7,407.3 832.8,410.7 834.2,414.3 835.9,418.0 837.8,421.7 839.6,425.2 841.2,428.3 842.3,431.2 843.0,433.7 843.3,436.1 843.5,438.5 843.8,441.1 844.5,444.0 845.7,447.3 847.4,451.0 849.5,454.9 851.7,458.8 853.7,462.5 855.1,465.9 855.9,468.8 856.1,471.2 855.9,473.3 855.7,475.3"/>
<polyline points="832.3,387.3 833.8,390.1 835.0,392.8 836.0,395.6 836.8,398.4 837.5,401.5 838.3,404.8 839.3,408.3 840.7,411.9 842.4,415.6 844.3,419.0 846.3,422.2 848.1,425.1 849.5,427.7 850.5,430.1 851.0,432.4 851.4,435.0 851.7,437.8 852.3,441.1 853.4,444.7 855.1,448.5 857.1,452.3 859.4,455.9 861.5,459.1 863.2,461.8 864.3,464.1 864.8,466.1 864.8,468.0 864.6,470.1 864.7,472.6"/>
<polyline points="839.1,387.1 840.6,389.8 841.8,392.6 842.8,395.5 843.7,398.7 844.5,402.1 845.5,405.6 846.8,409.2 848.5,412.7 850.5,416.0 852.6,418.9 854.6,421.5 856.3,423.9 857.5,426.2 858.3,428.7 858.8,431.4 859.2,434.6 859.8,438.1 860.8,441.8 862.3,445.5 864.4,449.0 866.7,452.2 869.0,454.8 871.0,457.0 872.4,459.0 873.2,460.9 873.4,463.0 873.4,465.6 873.5,468.7 874.1,472.3"/>
<polyline points="845.7,386.7 847.2,389.5 848.5,392.5 849.5,395.8 850.5,399.2 851.5,402.7 852.7,406.2 854.3,409.5 856.3,412.6 858.4,415.3 860.6,417.7 862.5,420.0 864.1,422.4 865.2,425.0 865.9,428.0 866.5,431.4 867.0,435.0 868.0,438.7 869.4,442.2 871.4,445.3 873.7,447.9 876.2,450.1 878.5,452.1 880.3,454.0 881.4,456.1 882.0,458.8 882.2,461.9 882.4,465.6 883.0,469.5 884.3,473.4"/>
<polyline points="852.3,386.4 853.8,389.5 855.0,392.7 856.1,396.2 857.2,399.7 858.4,403.0 859.9,406.2 861.8,409.0 864.0,411.5 866.3,413.8 868.5,416.1 870.3,418.6 871.8,421.5 872.8,424.7 873.5,428.2 874.2,431.8 875.1,435.4 876.4,438.5 878.3,441.3 880.7,443.5 883.4,445.5 885.9,447.4 888.1,449.6 889.6,452.3 890.6,455.5 891.1,459.2 891.5,463.1 892.2,467.0 893.4,470.6 895.5,473.5"/>
<polyline points="858.7,386.4 860.2,389.7 861.5,393.1 862.7,396.5 863.9,399.7 865.4,402.7 867.2,405.3 869.3,407.7 871.7,410.0 874.1,412.4 876.3,415.1 878.1,418.1 879.4,421.5 880.4,425.1 881.2,428.7 882.1,432.0 883.5,434.8 885.3,437.2 887.7,439.3 890.5,441.3 893.3,443.5 895.8,446.1 897.8,449.3 899.2,453.0 900.0,457.0 900.6,461.0 901.4,464.6 902.7,467.6 904.7,470.1 907.4,472.1"/>
<polyline points="865.0,386.5 866.6,389.9 867.9,393.2 869.2,396.4 870.7,399.2 872.4,401.7 874.5,404.1 876.9,406.4 879.5,408.9 881.9,411.8 884.1,415.0 885.8,418.5 887.1,422.1 888.2,425.5 889.2,428.6 890.5,431.2 892.3,433.4 894.7,435.4 897.5,437.6 900.5,440.2 903.4,443.4 905.8,447.1 907.6,451.1 908.9,455.2 909.7,458.9 910.6,462.1 911.8,464.7 913.8,466.9 916.4,468.9 919.7,471.3"/>
<polyline points="871.3,386.7 872.9,390.0 874.3,393.0 875.9,395.7 877.6,398.2 879.6,400.5 882.0,402.9 884.7,405.6 887.4,408.6 889.9,412.0 892.0,415.6 893.6,419.1 895.0,422.4 896.2,425.2 897.5,427.7 899.3,429.8 901.6,432.0 904.5,434.6 907.6,437.6 910.8,441.3 913.6,445.3 915.8,449.5 917.4,453.4 918.5,456.7 919.5,459.5 920.7,461.8 922.5,464.0 925.1,466.4 928.2,469.5 931.8,473.3"/>
<polyline points="877.6,386.8 879.2,389.7 880.9,392.4 882.6,394.8 884.6,397.2 887.0,399.7 889.7,402.5 892.6,405.6 895.3,409.1 897.8,412.7 899.9,416.2 901.6,419.4 903.0,422.1 904.5,424.4 906.2,426.6 908.4,429.1 911.2,432.0 914.5,435.5 917.8,439.5 920.9,443.7 923.6,447.8 925.5,451.3 926.9,454.3 928.0,456.8 929.2,459.0 930.9,461.4 933.2,464.4 936.2,468.1 939.7,472.5 943.2,477.1"/>
<polyline points="883.9,386.5 885.7,389.1 887.5,391.5 889.5,393.9 891.9,396.5 894.6,399.5 897.5,402.8 900.5,406.4 903.4,410.0 905.9,413.4 907.9,416.4 909.6,419.0 911.2,421.3 912.9,423.7 915.1,426.5 917.8,429.8 921.0,433.6 924.4,437.8 927.8,442.0 930.8,445.8 933.1,449.0 934.8,451.7 936.0,454.0 937.2,456.3 938.7,459.1 940.8,462.6 943.6,466.8 947.0,471.3 950.6,475.7 953.9,479.6"/>
<polyline points="890.3,385.9 892.2,388.4 894.3,390.8 896.6,393.6 899.3,396.6 902.3,400.0 905.5,403.7 908.6,407.3 911.4,410.6 913.9,413.5 915.9,416.1 917.7,418.5 919.4,421.1 921.5,424.1 924.1,427.7 927.2,431.8 930.6,436.0 934.1,440.0 937.4,443.5 940.1,446.4 942.1,448.8 943.5,451.0 944.8,453.6 946.1,456.9 948.0,460.8 950.6,465.1 953.9,469.5 957.5,473.3 961.0,476.3 964.0,478.4"/>
<polyline points="896.7,385.3 898.9,387.9 901.2,390.7 903.8,393.8 906.8,397.3 910.1,401.0 913.4,404.6 916.6,407.8 919.4,410.7 921.8,413.2 923.8,415.7 925.6,418.5 927.7,421.8 930.1,425.6 933.0,429.8 936.4,434.0 940.0,437.7 943.5,440.9 946.5,443.4 948.8,445.7 950.6,448.0 951.9,450.9 953.2,454.5 954.9,458.6 957.3,462.9 960.5,466.7 964.1,469.8 967.8,472.0 971.2,473.5 973.8,474.9"/>
<polyline points="903.2,384.9 905.6,387.8 908.2,391.0 911.2,394.6 914.5,398.3 917.9,401.9 921.3,405.1 924.5,407.9 927.2,410.4 929.5,413.0 931.5,416.0 933.5,419.5 935.8,423.4 938.6,427.6 941.8,431.6 945.4,435.1 949.1,437.9 952.4,440.2 955.1,442.4 957.1,444.9 958.7,448.1 960.1,451.9 961.7,456.0 963.9,459.9 966.9,463.1 970.6,465.4 974.5,467.0 978.2,468.3 981.4,469.8 983.7,472.1"/>
<polyline points="909.8,385.0 912.4,388.3 915.3,391.9 918.6,395.6 922.1,399.1 925.7,402.3 929.1,405.1 932.2,407.6 934.8,410.3 937.1,413.4 939.1,417.0 941.3,421.1 943.9,425.2 947.0,429.0 950.5,432.1 954.2,434.7 957.8,436.8 960.9,439.0 963.3,441.7 965.2,445.0 966.7,448.9 968.4,452.8 970.5,456.2 973.4,458.8 977.0,460.6 981.1,461.8 985.2,463.1 988.9,465.0 991.8,467.9 993.9,471.4"/>
<polyline points="916.4,385.5 919.3,389.1 922.5,392.8 926.0,396.3 929.7,399.5 933.3,402.2 936.7,404.8 939.7,407.6 942.2,410.8 944.4,414.5 946.6,418.5 949.0,422.5 951.9,426.0 955.3,428.9 959.1,431.2 962.9,433.2 966.3,435.5 969.2,438.3 971.5,441.8 973.3,445.6 975.0,449.2 977.1,452.2 979.9,454.2 983.5,455.5 987.7,456.7 992.1,458.3 996.2,460.7 999.7,464.1 1002.3,467.8 1004.3,471.3"/>
<polyline points="923.1,386.3 926.2,390.0 929.6,393.5 933.3,396.6 937.1,399.4 940.8,402.0 944.1,404.8 946.9,408.0 949.3,411.8 951.6,415.8 954.0,419.6 956.7,422.9 960.0,425.5 963.7,427.6 967.6,429.6 971.4,431.9 974.8,434.9 977.5,438.4 979.7,442.1 981.7,445.4 983.8,447.8 986.5,449.5 990.0,450.6 994.2,451.9 998.8,454.0 1003.3,457.0 1007.3,460.6 1010.4,464.4 1012.8,467.6 1014.7,469.8"/>
<polyline points="929.7,387.2 933.1,390.6 936.7,393.7 940.6,396.5 944.4,399.1 948.0,401.9 951.2,405.2 954.0,408.9 956.4,412.8 958.8,416.5 961.4,419.5 964.5,421.9 968.2,423.9 972.2,425.9 976.3,428.3 980.0,431.4 983.3,434.9 985.9,438.5 988.2,441.4 990.4,443.5 993.1,444.8 996.5,446.0 1000.6,447.6 1005.3,450.2 1010.1,453.7 1014.5,457.6 1018.1,461.2 1020.8,464.0 1023.0,465.9 1024.9,467.3"/>
</g>
</g>
<path d="M76.75 275.00V245.60Q76.75 243.60 78.75 243.60H104.75Q106.75 243.60 106.75 245.60V275.00Z" fill="#bde8fa"/>
<rect x="76.75" y="275.00" width="30.0" height="44.50" fill="#5cc9f5"/>
<rect x="76.75" y="319.50" width="30.0" height="70.40" fill="#36104a"/>
<path d="M129.20 269.80V235.80Q129.20 233.80 131.20 233.80H157.20Q159.20 233.80 159.20 235.80V269.80Z" fill="#bde8fa"/>
<rect x="129.20" y="269.80" width="30.0" height="47.20" fill="#5cc9f5"/>
<rect x="129.20" y="317.00" width="30.0" height="72.90" fill="#36104a"/>
<path d="M181.65 261.60V229.20Q181.65 227.20 183.65 227.20H209.65Q211.65 227.20 211.65 229.20V261.60Z" fill="#bde8fa"/>
<rect x="181.65" y="261.60" width="30.0" height="46.80" fill="#5cc9f5"/>
<rect x="181.65" y="308.40" width="30.0" height="81.50" fill="#36104a"/>
<path d="M234.10 249.70V212.50Q234.10 210.50 236.10 210.50H262.10Q264.10 210.50 264.10 212.50V249.70Z" fill="#bde8fa"/>
<rect x="234.10" y="249.70" width="30.0" height="48.60" fill="#5cc9f5"/>
<rect x="234.10" y="298.30" width="30.0" height="91.60" fill="#36104a"/>
<path d="M286.55 240.90V202.40Q286.55 200.40 288.55 200.40H314.55Q316.55 200.40 316.55 202.40V240.90Z" fill="#bde8fa"/>
<rect x="286.55" y="240.90" width="30.0" height="53.80" fill="#5cc9f5"/>
<rect x="286.55" y="294.70" width="30.0" height="95.20" fill="#36104a"/>
<path d="M339.00 231.10V189.10Q339.00 187.10 341.00 187.10H367.00Q369.00 187.10 369.00 189.10V231.10Z" fill="#bde8fa"/>
<rect x="339.00" y="231.10" width="30.0" height="56.10" fill="#5cc9f5"/>
<rect x="339.00" y="287.20" width="30.0" height="102.70" fill="#36104a"/>
<path d="M391.45 207.80V161.90Q391.45 159.90 393.45 159.90H419.45Q421.45 159.90 421.45 161.90V207.80Z" fill="#bde8fa"/>
<rect x="391.45" y="207.80" width="30.0" height="61.70" fill="#5cc9f5"/>
<rect x="391.45" y="269.50" width="30.0" height="120.40" fill="#36104a"/>
<path d="M443.90 184.70V137.80Q443.90 135.80 445.90 135.80H471.90Q473.90 135.80 473.90 137.80V184.70Z" fill="#bde8fa"/>
<rect x="443.90" y="184.70" width="30.0" height="69.80" fill="#5cc9f5"/>
<rect x="443.90" y="254.50" width="30.0" height="135.40" fill="#36104a"/>
<path d="M496.35 188.30V141.10Q496.35 139.10 498.35 139.10H524.35Q526.35 139.10 526.35 141.10V188.30Z" fill="#bde8fa"/>
<rect x="496.35" y="188.30" width="30.0" height="63.70" fill="#5cc9f5"/>
<rect x="496.35" y="252.00" width="30.0" height="137.90" fill="#36104a"/>
<path d="M548.80 179.00V127.80Q548.80 125.80 550.80 125.80H576.80Q578.80 125.80 578.80 127.80V179.00Z" fill="#bde8fa"/>
<rect x="548.80" y="179.00" width="30.0" height="64.70" fill="#5cc9f5"/>
<rect x="548.80" y="243.70" width="30.0" height="146.20" fill="#36104a"/>
<path d="M601.25 166.50V113.90Q601.25 111.90 603.25 111.90H629.25Q631.25 111.90 631.25 113.90V166.50Z" fill="#bde8fa"/>
<rect x="601.25" y="166.50" width="30.0" height="66.30" fill="#5cc9f5"/>
<rect x="601.25" y="232.80" width="30.0" height="157.10" fill="#36104a"/>
<circle cx="258.3" cy="434.4" r="5.8" fill="#36104a"/>
<circle cx="331.7" cy="434.4" r="5.8" fill="#5cc9f5"/>
<circle cx="405.9" cy="434.4" r="5.8" fill="#bde8fa"/>
<rect x="696.7" y="50.5" width="45.8" height="24.3" fill="#fff"/>
<path d="M742.5 62.9H718V66.4" fill="none" stroke="#36104a" stroke-width="0.9"/>
<path d="M748.8 50.5H795L771.9 74.8Z" fill="#5cc9f5"/>
<rect x="801.2" y="50.5" width="45.8" height="24.3" fill="#fff"/>
<path d="M847 62.8H830.6L847 70.7" fill="none" stroke="#36104a" stroke-width="0.9"/>
<rect x="705.2" y="241.3" width="132.8" height="1.5" fill="#fff" fill-opacity="0.8"/>
<g>
<text transform="translate(58.98 69.2) scale(1.0152 1)" font-size="25.2" font-weight="bold" fill="#36104a" stroke="#36104a" stroke-width="1.1">U.S.</text>
<text transform="translate(117.95 69.2) scale(1.0461 1)" font-size="25.2" font-weight="bold" fill="#36104a" stroke="#36104a" stroke-width="1.1">Precious</text>
<text transform="translate(236.48 69.2) scale(1.1173 1)" font-size="25.2" font-weight="bold" fill="#36104a" stroke="#36104a" stroke-width="1.1">Metal</text>
<text transform="translate(316.53 69.2) scale(1.0717 1)" font-size="25.2" font-weight="bold" fill="#36104a" stroke="#36104a" stroke-width="1.1">Market</text>
</g>
<g>
<text transform="translate(59.40 91.7) scale(1.0120 1)" font-size="16.3" font-weight="normal" fill="#3b3340" stroke="#3b3340" stroke-width="0.35">Size,</text>
<text transform="translate(100.64 91.7) scale(0.8619 1)" font-size="16.3" font-weight="normal" fill="#3b3340" stroke="#3b3340" stroke-width="0.35">by</text>
<text transform="translate(121.86 91.7) scale(1.0404 1)" font-size="16.3" font-weight="normal" fill="#3b3340" stroke="#3b3340" stroke-width="0.35">Product,</text>
<text transform="translate(190.40 91.7) scale(1.0950 1)" font-size="16.3" font-weight="normal" fill="#3b3340" stroke="#3b3340" stroke-width="0.35">2020</text>
<text transform="translate(236.70 91.7) scale(0.8600 1)" font-size="16.3" font-weight="normal" fill="#3b3340" stroke="#3b3340" stroke-width="0.35">-</text>
<text transform="translate(246.70 91.7) scale(1.1088 1)" font-size="16.3" font-weight="normal" fill="#3b3340" stroke="#3b3340" stroke-width="0.35">2030</text>
<text transform="translate(293.04 91.7) scale(0.9648 1)" font-size="16.3" font-weight="normal" fill="#3b3340" stroke="#3b3340" stroke-width="0.35">(USD</text>
<text transform="translate(336.94 91.7) scale(1.0603 1)" font-size="16.3" font-weight="normal" fill="#3b3340" stroke="#3b3340" stroke-width="0.35">Billion)</text>
</g>
<g>
<text transform="translate(65.00 231.1) scale(0.9973 1)" font-size="17.3" font-weight="normal" fill="#3b3340" stroke="#3b3340" stroke-width="0.35">$13.2B</text>
<text transform="translate(118.20 209.9) scale(0.9918 1)" font-size="17.3" font-weight="normal" fill="#3b3340" stroke="#3b3340" stroke-width="0.35">$14.0B</text>
</g>
<g>
<text transform="translate(73.75 406.8) scale(1.0085 1)" font-size="16.0" font-weight="normal" fill="#3b3340" stroke="#3b3340" stroke-width="0.35">2020</text>
<text transform="translate(126.20 406.8) scale(1.0085 1)" font-size="16.0" font-weight="normal" fill="#3b3340" stroke="#3b3340" stroke-width="0.35">2021</text>
<text transform="translate(178.65 406.8) scale(1.0085 1)" font-size="16.0" font-weight="normal" fill="#3b3340" stroke="#3b3340" stroke-width="0.35">2022</text>
<text transform="translate(231.10 406.8) scale(1.0085 1)" font-size="16.0" font-weight="normal" fill="#3b3340" stroke="#3b3340" stroke-width="0.35">2023</text>
<text transform="translate(283.55 406.8) scale(1.0085 1)" font-size="16.0" font-weight="normal" fill="#3b3340" stroke="#3b3340" stroke-width="0.35">2024</text>
<text transform="translate(336.00 406.8) scale(1.0085 1)" font-size="16.0" font-weight="normal" fill="#3b3340" stroke="#3b3340" stroke-width="0.35">2025</text>
<text transform="translate(388.45 406.8) scale(1.0085 1)" font-size="16.0" font-weight="normal" fill="#3b3340" stroke="#3b3340" stroke-width="0.35">2026</text>
<text transform="translate(440.90 406.8) scale(1.0085 1)" font-size="16.0" font-weight="normal" fill="#3b3340" stroke="#3b3340" stroke-width="0.35">2027</text>
<text transform="translate(493.35 406.8) scale(1.0085 1)" font-size="16.0" font-weight="normal" fill="#3b3340" stroke="#3b3340" stroke-width="0.35">2028</text>
<text transform="translate(545.80 406.8) scale(1.0085 1)" font-size="16.0" font-weight="normal" fill="#3b3340" stroke="#3b3340" stroke-width="0.35">2029</text>
<text transform="translate(598.25 406.8) scale(1.0085 1)" font-size="16.0" font-weight="normal" fill="#3b3340" stroke="#3b3340" stroke-width="0.35">2030</text>
</g>
<g>
<text transform="translate(271.40 439.2) scale(0.9400 1)" font-size="15.1" font-weight="normal" fill="#3b3340" stroke="#3b3340" stroke-width="0.35">Glod</text>
<text transform="translate(345.43 439.2) scale(0.8687 1)" font-size="15.1" font-weight="normal" fill="#3b3340" stroke="#3b3340" stroke-width="0.35">PGM</text>
<text transform="translate(419.00 439.2) scale(0.9598 1)" font-size="15.1" font-weight="normal" fill="#3b3340" stroke="#3b3340" stroke-width="0.35">Silver</text>
</g>
<g>
<text transform="translate(696.70 92.3) scale(1.13 1)" letter-spacing="0.295" font-size="10.3" font-weight="bold" fill="#fff">GRAND</text>
<text transform="translate(744.50 92.3) scale(1.13 1)" letter-spacing="0.721" font-size="10.3" font-weight="bold" fill="#fff">VIEW</text>
<text transform="translate(781.30 92.3) scale(1.13 1)" letter-spacing="0.151" font-size="10.3" font-weight="bold" fill="#fff">RESEARCH</text>
</g>
<g>
<text transform="translate(727.83 232.0) scale(1.0715 1)" font-size="39.4" font-weight="bold" fill="#fff">6.4</text><text transform="translate(788.70 232.0) scale(0.7794 1)" font-size="39.4" font-weight="bold" fill="#fff">%</text>
</g>
<g>
<text transform="translate(709.41 261.7) scale(0.9904 1)" font-size="15.1" font-weight="normal" fill="#fff" stroke="#fff" stroke-width="0.35">U.S.</text>
<text transform="translate(742.42 261.7) scale(0.9796 1)" font-size="15.1" font-weight="normal" fill="#fff" stroke="#fff" stroke-width="0.35">Market</text>
<text transform="translate(793.10 261.7) scale(0.8754 1)" font-size="15.1" font-weight="normal" fill="#fff" stroke="#fff" stroke-width="0.35">CAGR,</text>
</g>
<g>
<text transform="translate(728.40 280.3) scale(1.0367 1)" font-size="15.1" font-weight="normal" fill="#fff" stroke="#fff" stroke-width="0.35">2023</text>
<text transform="translate(768.90 280.3) scale(0.7800 1)" font-size="15.1" font-weight="normal" fill="#fff" stroke="#fff" stroke-width="0.35">-</text>
<text transform="translate(776.60 280.3) scale(1.0578 1)" font-size="15.1" font-weight="normal" fill="#fff" stroke="#fff" stroke-width="0.35">2030</text>
</g>
<g>
<text transform="translate(684.90 424.7) scale(0.8939 1)" font-size="14.3" font-weight="bold" fill="#fff">Source:</text>
</g>
<g>
<text transform="translate(685.84 440.6) scale(0.9389 1)" font-size="14.2" font-weight="normal" fill="#fff" stroke="#fff" stroke-width="0.35">www.grandviewresearch.com</text>
</g>
</svg>
</body></html>
